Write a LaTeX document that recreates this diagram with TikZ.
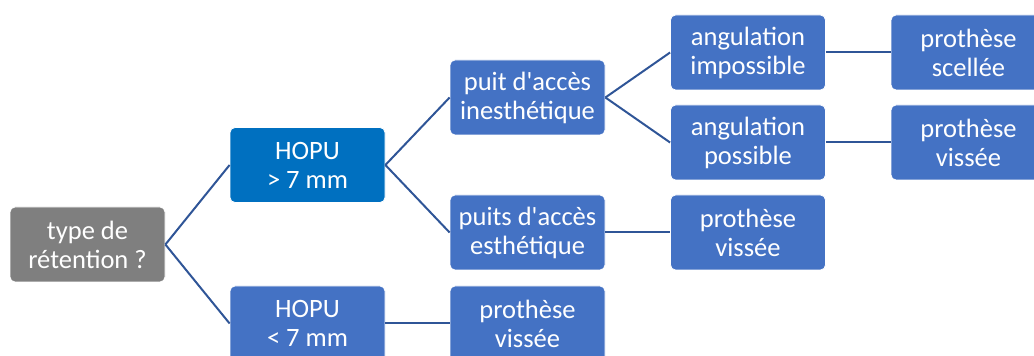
\documentclass[tikz,border=0pt]{standalone}
\usepackage{fontspec}
\setmainfont{Carlito}[Ligatures=TeXOff]
\definecolor{boxblue}{HTML}{4472C4}
\definecolor{darkbox}{HTML}{0070C0}
\definecolor{graybox}{HTML}{7F7F7F}
\definecolor{linkblue}{HTML}{2F5597}
\tikzset{
  box/.style={draw=white, line width=0.8pt, fill=boxblue, rounded corners=5pt,
    minimum width=155pt, minimum height=75pt, inner sep=0pt, text=white,
    align=center, font=\fontsize{26.5}{29}\selectfont},
  link/.style={draw=linkblue, line width=2pt}
}
\begin{document}
\begin{tikzpicture}[x=1pt,y=1pt]
\useasboundingbox (0,0) rectangle (1034,356);
\node[box, fill=graybox] (ret) at (87.5,111.5) {type de\\rétention ?};
\node[box, fill=darkbox] (hg) at (307.5,191) {HOPU\\> 7 mm};
\node[box] (hl) at (307.5,32.5) {HOPU\\< 7 mm};
\node[box] (pi) at (527.5,258.5) {puit d'accès\\inesthétique};
\node[box] (pe) at (527.5,123.5) {puits d'accès\\esthétique};
\node[box] (pv1) at (527.5,32.5) {prothèse\\vissée};
\node[box] (ai) at (748,303.5) {angulation\\impossible};
\node[box] (ap) at (748,213.5) {angulation\\possible};
\node[box] (pv2) at (748,123.5) {prothèse\\vissée};
\node[box] (ps) at (968.5,303.5) {prothèse\\scellée};
\node[box] (pv3) at (968.5,213.5) {prothèse\\vissée};
\draw[link] (ret.east) -- (hg.west);
\draw[link] (ret.east) -- (hl.west);
\draw[link] (hg.east) -- (pi.west);
\draw[link] (hg.east) -- (pe.west);
\draw[link] (hl.east) -- (pv1.west);
\draw[link] (pi.east) -- (ai.west);
\draw[link] (pi.east) -- (ap.west);
\draw[link] (pe.east) -- (pv2.west);
\draw[link] (ai.east) -- (ps.west);
\draw[link] (ap.east) -- (pv3.west);
\end{tikzpicture}
\end{document}
